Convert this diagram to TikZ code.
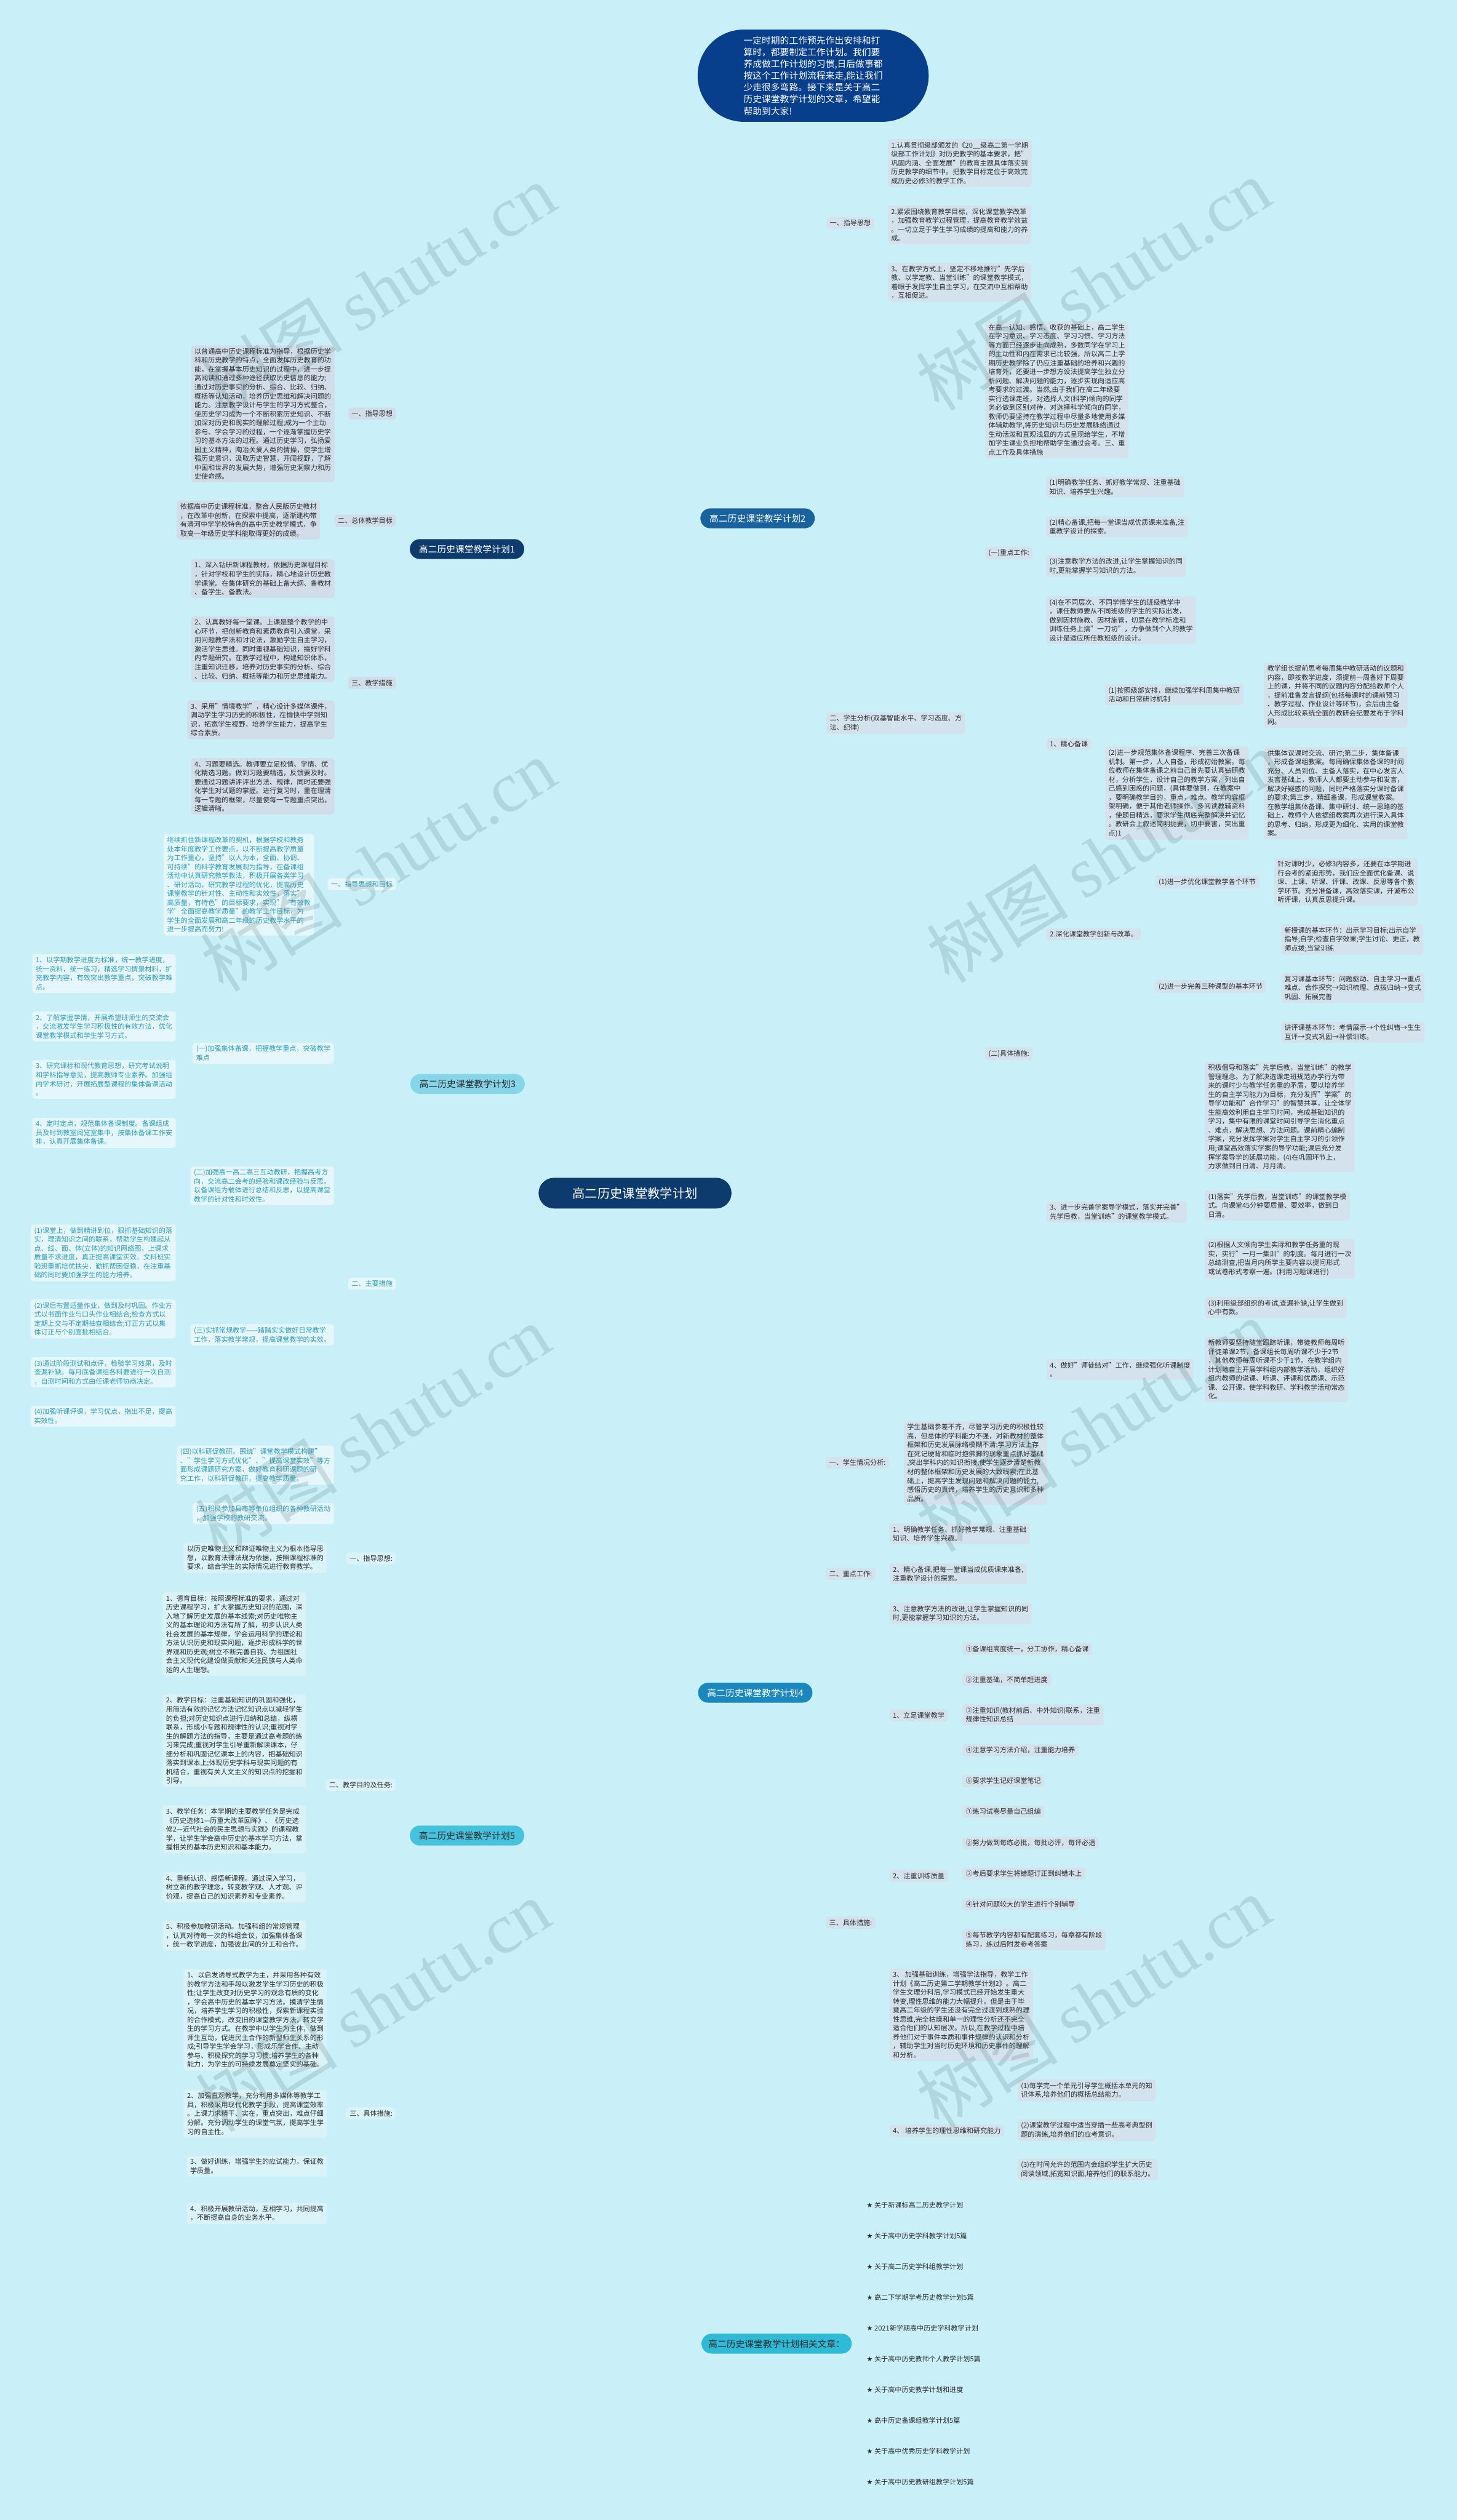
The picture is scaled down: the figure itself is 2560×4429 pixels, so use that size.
\documentclass[tikz,border=0pt]{standalone}
\usepackage{fontspec}
\setmainfont{Noto Sans CJK SC}
\newfontfamily\wmfont{Liberation Serif}
\newfontfamily\symf{DejaVu Sans}
\usetikzlibrary{calc}
\pgfdeclarelayer{bgl}
\pgfdeclarelayer{wml}
\pgfsetlayers{bgl,main,wml}
\definecolor{bgc}{HTML}{C9F0F8}
\definecolor{navy}{HTML}{0E3B6E}
\definecolor{bubc}{HTML}{083F8C}
\definecolor{p2c}{HTML}{1862A0}
\definecolor{p4c}{HTML}{1A88BE}
\definecolor{rcc}{HTML}{2FBAD8}
\definecolor{p3c}{HTML}{86D5E8}
\definecolor{p5c}{HTML}{45C3DE}
\definecolor{boxA}{HTML}{D3E2EC}
\definecolor{boxP}{HTML}{D2DDEA}
\definecolor{boxC}{HTML}{E6F7FB}
\definecolor{boxE}{HTML}{DAF3F8}
\definecolor{txtC}{HTML}{2A9BB8}
\definecolor{txtD}{HTML}{2B2B2B}
\definecolor{lone}{HTML}{173F6F}
\definecolor{ltwo}{HTML}{1A5F92}
\definecolor{lfour}{HTML}{1A80B3}
\definecolor{lthree}{HTML}{8AD3E4}
\definecolor{lfive}{HTML}{3FBDD8}
\definecolor{lrel}{HTML}{2AAECF}
\definecolor{wmc}{HTML}{4A7378}
\newcommand\rlink[4][]{\draw[#1] let \p1=(#2.east), \p2=(#3.west) in (\p1) -- (#4pt,\y1) -- (#4pt,\y2) -- (\p2);}
\newcommand\llink[4][]{\draw[#1] let \p1=(#2.west), \p2=(#3.east) in (\p1) -- (#4pt,\y1) -- (#4pt,\y2) -- (\p2);}
\begin{document}
\begin{tikzpicture}[x=1pt,y=-1pt,
 tx/.style={font=\fontsize{12pt}{15.7pt}\selectfont, align=left, inner xsep=6pt, inner ysep=5pt, rounded corners=5pt, text=txtD},
 bA/.style={tx, fill=boxA},
 bP/.style={tx, fill=boxP},
 bC/.style={tx, fill=boxC, text=txtC},
 bE/.style={tx, fill=boxE},
 pn/.style={font=\fontsize{16pt}{20pt}\selectfont, minimum width=201pt, minimum height=35pt, rounded corners=17.5pt, inner xsep=12pt},
 cn/.style={line width=2.2pt, rounded corners=8pt},
 cnA/.style={cn, draw=ltwo},
 cnB/.style={cn, draw=lfour},
 cnP/.style={cn, draw=lone},
 cnC/.style={cn, draw=lthree},
 cnE/.style={cn, draw=lfive},
 cnR/.style={cn, draw=lrel, rounded corners=12pt},
 mainln/.style={line width=3pt},
 rel/.style={font=\fontsize{12pt}{14pt}\selectfont, anchor=west, inner sep=3pt, text=txtD}
]
\useasboundingbox (0,0) rectangle (2560,4429);
\fill[bgc] (0,0) rectangle (2560,4429);

% root and bubble
\node[font=\fontsize{22pt}{26pt}\selectfont, fill=navy, text=white, minimum width=339pt, minimum height=54pt, rounded corners=27pt] (root) at (1116,2097) {高二历史课堂教学计划};
\node[fill=bubc, text=white, font=\fontsize{16pt}{20.7pt}\selectfont, align=left, minimum width=406pt, minimum height=162pt, rounded corners=81pt, inner sep=0pt] (bub) at (1429,133) {一定时期的工作预先作出安排和打\\算时，都要制定工作计划。我们要\\养成做工作计划的习惯,日后做事都\\按这个工作计划流程来走,能让我们\\少走很多弯路。接下来是关于高二\\历史课堂教学计划的文章，希望能\\帮助到大家!};

% ===== Plan 2 =====
\node[pn, fill=p2c, text=white, anchor=east] (P2) at (1432,911) {高二历史课堂教学计划2};
\node[bA, anchor=west] (p2a) at (1452,392) {一、指导思想};
\node[bA, anchor=west] (p2a1) at (1560,286.5) {1.认真贯彻级部颁发的《20\_\_级高二第一学期\\级部工作计划》对历史教学的基本要求，把"\\巩固内涵、全面发展"的教育主题具体落实到\\历史教学的细节中。把教学目标定位于高效完\\成历史必修3的教学工作。};
\node[bA, anchor=west] (p2a2) at (1560,395.5) {2.紧紧围绕教育教学目标，深化课堂教学改革\\，加强教育教学过程管理，提高教育教学效益\\。一切立足于学生学习成绩的提高和能力的养\\成。};
\node[bA, anchor=west] (p2a3) at (1560,496) {3、在教学方式上，坚定不移地推行"先学后\\教、以学定教、当堂训练"的课堂教学模式，\\着眼于发挥学生自主学习，在交流中互相帮助\\，互相促进。};
\node[bA, anchor=west] (p2b) at (1452,1271) {二、学生分析(双基智能水平、学习态度、方\\法、纪律)};
\node[bA, anchor=west] (p2b1) at (1731,685) {在高一认知、感悟、收获的基础上，高二学生\\在学习意识、学习态度、学习习惯、学习方法\\等方面已经逐步走向成熟，多数同学在学习上\\的主动性和内在需求已比较强，所以高二上学\\期历史教学除了仍应注重基础的培养和兴趣的\\培育外，还要进一步想方设法提高学生独立分\\析问题、解决问题的能力，逐步实现向适应高\\考要求的过渡。当然,由于我们在高二年级要\\实行选课走班，对选择人文(科学)倾向的同学\\务必做到区别对待，对选择科学倾向的同学，\\教师仍要坚持在教学过程中尽量多地使用多媒\\体辅助教学,将历史知识与历史发展脉络通过\\生动活泼和直观浅显的方式呈现给学生，不增\\加学生课业负担地帮助学生通过会考。三、重\\点工作及具体措施};
\node[bA, anchor=west] (p2b2) at (1731,972) {(一)重点工作:};
\node[bA, anchor=west] (k1) at (1838,856) {(1)明确教学任务、抓好教学常规、注重基础\\知识、培养学生兴趣。};
\node[bA, anchor=west] (k2) at (1838,926) {(2)精心备课,把每一堂课当成优质课来准备,注\\重教学设计的探索。};
\node[bA, anchor=west] (k3) at (1838,995) {(3)注意教学方法的改进,让学生掌握知识的同\\时,更能掌握学习知识的方法。};
\node[bA, anchor=west] (k4) at (1838,1090) {(4)在不同层次、不同学情学生的班级教学中\\，课任教师要从不同班级的学生的实际出发，\\做到因材施教、因材施管，切忌在教学标准和\\训练任务上搞"一刀切"，力争做到个人的教学\\设计是适应所任教班级的设计。};
\node[bA, anchor=west] (p2b3) at (1731,1852) {(二)具体措施:};
\node[bA, anchor=west] (c1) at (1839,1308) {1、精心备课};
\node[bA, anchor=west] (c11) at (1942,1221) {(1)按照级部安排，继续加强学科周集中教研\\活动和日常研讨机制};
\node[bA, anchor=west] (c11x) at (2221,1222) {教学组长提前思考每周集中教研活动的议题和\\内容，即按教学进度，须提前一周备好下周要\\上的课，并将不同的议题内容分配给教师个人\\，提前准备发言提纲(包括每课时的课前预习\\、教学过程、作业设计等环节)，会后由主备\\人形成比较系统全面的教研会纪要发布于学科\\网。};
\node[bA, anchor=west] (c12) at (1942,1394) {(2)进一步规范集体备课程序、完善三次备课\\机制。第一步，人人自备，形成初始教案。每\\位教师在集体备课之前自己首先要认真钻研教\\材，分析学生，设计自己的教学方案，列出自\\己感到困惑的问题，(具体要做到，在教案中\\，要明确教学目的，重点，难点。教学内容框\\架明确，便于其他老师操作。多阅读教辅资料\\，使题目精选，要求学生彻底完整解决并记忆\\。教研会上叙述简明扼要，切中要害，突出重\\点)1};
\node[bA, anchor=west] (c12x) at (2221,1394) {供集体议课时交流、研讨;第二步，集体备课\\，形成备课组教案。每周确保集体备课的时间\\充分、人员到位、主备人落实，在中心发言人\\发言基础上，教师人人都要主动参与和发言，\\解决好疑惑的问题，同时严格落实分课时备课\\的要求;第三步，精细备课，形成课堂教案。\\在教学组集体备课、集中研讨、统一思路的基\\础上，教师个人依据组教案再次进行深入具体\\的思考、归纳，形成更为细化、实用的课堂教\\案。};
\node[bA, anchor=west] (c2) at (1839,1642) {2.深化课堂教学创新与改革。};
\node[bA, anchor=west] (c21) at (2030,1550) {(1)进一步优化课堂教学各个环节};
\node[bA, anchor=west] (c21x) at (2239,1550) {针对课时少，必修3内容多，还要在本学期进\\行会考的紧迫形势，我们应全面优化备课、说\\课、上课、听课、评课、改课、反思等各个教\\学环节。充分准备课，高效落实课，开诚布公\\听评课，认真反思提升课。};
\node[bA, anchor=west] (c22) at (2030,1734) {(2)进一步完善三种课型的基本环节};
\node[bA, anchor=west] (c22a) at (2251,1651) {新授课的基本环节：出示学习目标;出示自学\\指导;自学;检查自学效果;学生讨论、更正，教\\师点拨;当堂训练};
\node[bA, anchor=west] (c22b) at (2251,1736) {复习课基本环节：问题驱动、自主学习→重点\\难点、合作探究→知识梳理、点拨归纳→变式\\巩固、拓展完善};
\node[bA, anchor=west] (c22c) at (2251,1814) {讲评课基本环节：考情展示→个性纠错→生生\\互评→变式巩固→补偿训练。};
\node[bA, anchor=west] (c3) at (1839,2130) {3、进一步完善学案导学模式，落实并完善"\\先学后教，当堂训练"的课堂教学模式。};
\node[bA, anchor=west] (c3a) at (2117,1963) {积极倡导和落实"先学后教，当堂训练"的教学\\管理理念。为了解决选课走班规范办学行为带\\来的课时少与教学任务重的矛盾，要以培养学\\生的自主学习能力为目标，充分发挥"学案"的\\导学功能和"合作学习"的智慧共享，让全体学\\生能高效利用自主学习时间，完成基础知识的\\学习，集中有限的课堂时间引导学生消化重点\\、难点，解决思想、方法问题。课前精心编制\\学案，充分发挥学案对学生自主学习的引领作\\用;课堂高效落实学案的导学功能;课后充分发\\挥学案导学的延展功能。(4)在巩固环节上，\\力求做到日日清、月月清。};
\node[bA, anchor=west] (c3b) at (2117,2119) {(1)落实"先学后教，当堂训练"的课堂教学模\\式。向课堂45分钟要质量、要效率，做到日\\日清。};
\node[bA, anchor=west] (c3c) at (2117,2212) {(2)根据人文倾向学生实际和教学任务重的现\\实，实行"一月一集训"的制度。每月进行一次\\总结测查,把当月内所学主要内容以提问形式\\或试卷形式考察一遍。(利用习题课进行)};
\node[bA, anchor=west] (c3d) at (2117,2298) {(3)利用级部组织的考试,查漏补缺,让学生做到\\心中有数。};
\node[bA, anchor=west] (c4) at (1839,2407) {4、做好"师徒结对"工作，继续强化听课制度\\。};
\node[bA, anchor=west] (c4x) at (2117,2407) {新教师要坚持随堂跟踪听课，带徒教师每周听\\评徒弟课2节，备课组长每周听课不少于2节\\，其他教师每周听课不少于1节。在教学组内\\计划地自主开展学科组内部教学活动，组织好\\组内教师的说课、听课、评课和优质课、示范\\课、公开课，使学科教研、学科教学活动常态\\化。};

% ===== Plan 4 =====
\node[pn, fill=p4c, text=white, anchor=east] (P4) at (1428,2975) {高二历史课堂教学计划4};
\node[bA, anchor=west] (q1) at (1451,2571) {一、学生情况分析:};
\node[bA, anchor=west] (q1x) at (1588,2571) {学生基础参差不齐，尽管学习历史的积极性较\\高，但总体的学科能力不强，对新教材的整体\\框架和历史发展脉络模糊不清;学习方法上存\\在死记硬背和临时抱佛脚的现象重点抓好基础\\,突出学科内的知识衔接,使学生逐步清楚新教\\材的整体框架和历史发展的大致线索;在此基\\础上，提高学生发现问题和解决问题的能力,\\感悟历史的真谛，培养学生的历史意识和多种\\品质。};
\node[bA, anchor=west] (q2) at (1451,2766) {二、重点工作:};
\node[bA, anchor=west] (q2a) at (1563,2696) {1、明确教学任务、抓好教学常规、注重基础\\知识、培养学生兴趣。};
\node[bA, anchor=west] (q2b) at (1563,2766) {2、精心备课,把每一堂课当成优质课来准备,\\注重教学设计的探索。};
\node[bA, anchor=west] (q2c) at (1563,2836) {3、注意教学方法的改进,让学生掌握知识的同\\时,更能掌握学习知识的方法。};
\node[bA, anchor=west] (q3) at (1451,3379) {三、具体措施:};
\node[bA, anchor=west] (q31) at (1563,3015) {1、立足课堂教学};
\node[bA, anchor=west] (q31a) at (1691,2898) {①备课组高度统一，分工协作，精心备课};
\node[bA, anchor=west] (q31b) at (1691,2952) {②注重基础，不简单赶进度};
\node[bA, anchor=west] (q31c) at (1691,3014) {③注重知识(教材前后、中外知识)联系，注重\\规律性知识总结};
\node[bA, anchor=west] (q31d) at (1691,3076) {④注意学习方法介绍，注重能力培养};
\node[bA, anchor=west] (q31e) at (1691,3130) {⑤要求学生记好课堂笔记};
\node[bA, anchor=west] (q32) at (1563,3297) {2、注重训练质量};
\node[bA, anchor=west] (q32a) at (1691,3184) {①练习试卷尽量自己组编};
\node[bA, anchor=west] (q32b) at (1691,3239) {②努力做到每练必批，每批必评，每评必透};
\node[bA, anchor=west] (q32c) at (1691,3293) {③考后要求学生将错题订正到纠错本上};
\node[bA, anchor=west] (q32d) at (1691,3347) {④针对问题较大的学生进行个别辅导};
\node[bA, anchor=west] (q32e) at (1691,3409) {⑤每节教学内容都有配套练习，每章都有阶段\\练习，练过后附发参考答案};
\node[bA, anchor=west] (q33) at (1563,3541) {3、 加强基础训练，增强学法指导，教学工作\\计划《高二历史第二学期教学计划2》。高二\\学生文理分科后,学习模式已经开始发生重大\\转变,理性思维的能力大幅提升。但是由于毕\\竟高二年级的学生还没有完全过渡到成熟的理\\性思维,完全枯燥和单一的理性分析还不完全\\适合他们的认知层次。所以,在教学过程中培\\养他们对于事件本质和事件规律的认识和分析\\，辅助学生对当时历史环境和历史事件的理解\\和分析。};
\node[bA, anchor=west] (q34) at (1563,3745) {4、 培养学生的理性思维和研究能力};
\node[bA, anchor=west] (q34a) at (1788,3674) {(1)每学完一个单元引导学生概括本单元的知\\识体系,培养他们的概括总结能力。};
\node[bA, anchor=west] (q34b) at (1788,3744) {(2)课堂教学过程中适当穿插一些高考典型例\\题的演练,培养他们的应考意识。};
\node[bA, anchor=west] (q34c) at (1788,3813) {(3)在时间允许的范围内会组织学生扩大历史\\阅读领域,拓宽知识面,培养他们的联系能力。};

% ===== Related =====
\node[pn, fill=rcc, text=txtD, anchor=east] (R) at (1497,4119) {高二历史课堂教学计划相关文章：};
\node[rel] (r1) at (1520,3876) {{\symf ★} 关于新课标高二历史教学计划};
\node[rel] (r2) at (1520,3930) {{\symf ★} 关于高中历史学科教学计划5篇};
\node[rel] (r3) at (1520,3984) {{\symf ★} 关于高二历史学科组教学计划};
\node[rel] (r4) at (1520,4038) {{\symf ★} 高二下学期学考历史教学计划5篇};
\node[rel] (r5) at (1520,4092) {{\symf ★} 2021新学期高中历史学科教学计划};
\node[rel] (r6) at (1520,4146) {{\symf ★} 关于高中历史教师个人教学计划5篇};
\node[rel] (r7) at (1520,4200) {{\symf ★} 关于高中历史教学计划和进度};
\node[rel] (r8) at (1520,4254) {{\symf ★} 高中历史备课组教学计划5篇};
\node[rel] (r9) at (1520,4308) {{\symf ★} 关于高中优秀历史学科教学计划};
\node[rel] (r10) at (1520,4362) {{\symf ★} 关于高中历史教研组教学计划5篇};

% ===== Plan 1 =====
\node[pn, fill=navy, text=white, anchor=west] (P1) at (720,965) {高二历史课堂教学计划1};
\node[bP, anchor=east] (a1) at (696,727) {一、指导思想};
\node[bP, anchor=east] (a1x) at (588,727.5) {以普通高中历史课程标准为指导，根据历史学\\科和历史教学的特点，全面发挥历史教育的功\\能，在掌握基本历史知识的过程中，进一步提\\高阅读和通过多种途径获取历史信息的能力;\\通过对历史事实的分析、综合、比较、归纳、\\概括等认知活动，培养历史思维和解决问题的\\能力。注意教学设计与学生的学习方式整合，\\使历史学习成为一个不断积累历史知识、不断\\加深对历史和现实的理解过程;成为一个主动\\参与、学会学习的过程，一个逐渐掌握历史学\\习的基本方法的过程。通过历史学习，弘扬爱\\国主义精神，陶冶关爱人类的情操，使学生增\\强历史意识，汲取历史智慧，开阔视野，了解\\中国和世界的发展大势，增强历史洞察力和历\\史使命感。};
\node[bP, anchor=east] (a2) at (696,915) {二、总体教学目标};
\node[bP, anchor=east] (a2x) at (563,914) {依据高中历史课程标准，整合人民版历史教材\\，在改革中创新，在探索中提高，逐渐建构带\\有清河中学学校特色的高中历史教学模式，争\\取高一年级历史学科能取得更好的成绩。};
\node[bP, anchor=east] (a3) at (696,1200) {三、教学措施};
\node[bP, anchor=east] (a3a) at (588,1017) {1、深入钻研新课程教材，依据历史课程目标\\，针对学校和学生的实际，精心地设计历史教\\学课堂。在集体研究的基础上备大纲、备教材\\、备学生、备教法。};
\node[bP, anchor=east] (a3b) at (588,1141) {2、认真教好每一堂课。上课是整个教学的中\\心环节，把创新教育和素质教育引入课堂，采\\用问题教学法和讨论法，激励学生自主学习，\\激活学生思维。同时重视基础知识，搞好学科\\内专题研究。在教学过程中，构建知识体系，\\注重知识迁移，培养对历史事实的分析、综合\\、比较、归纳、概括等能力和历史思维能力。};
\node[bP, anchor=east] (a3c) at (588,1265) {3、采用"情境教学"，精心设计多媒体课件，\\调动学生学习历史的积极性，在愉快中学到知\\识，拓宽学生视野，培养学生能力，提高学生\\综合素质。};
\node[bP, anchor=east] (a3d) at (588,1382) {4、习题要精选。教师要立足校情、学情、优\\化精选习题。做到习题要精选，反馈要及时。\\要通过习题讲评评出方法、规律，同时还要强\\化学生对试题的掌握。进行复习时，重在理清\\每一专题的框架，尽量使每一专题重点突出，\\逻辑清晰。};

% ===== Plan 3 =====
\node[pn, fill=p3c, text=txtD, anchor=west] (P3) at (721,1905) {高二历史课堂教学计划3};
\node[bC, anchor=east] (b1) at (696,1554) {一、指导思想和目标};
\node[bC, anchor=east] (b1x) at (552,1555) {继续抓住新课程改革的契机，根据学校和教务\\处本年度教学工作要点，以不断提高教学质量\\为工作重心，坚持"以人为本，全面、协调、\\可持续"的科学教育发展观为指导，在备课组\\活动中认真研究教学教法，积极开展各类学习\\、研讨活动，研究教学过程的优化，提高历史\\课堂教学的针对性、主动性和实效性，落实"\\高质量，有特色"的目标要求，实现"‘有效教\\学’全面提高教学质量"的教学工作目标，为\\学生的全面发展和高二年级的历史教学水平的\\进一步提高而努力!};
\node[bC, anchor=east] (b2) at (696,2256) {二、主要措施};
\node[bC, anchor=east] (b21) at (587,1851) {(一)加强集体备课，把握教学重点，突破教学\\难点};
\node[bC, anchor=east] (b21a) at (309,1711) {1、以学期教学进度为标准，统一教学进度，\\统一资料，统一练习，精选学习情景材料，扩\\充教学内容，有效突出教学重点，突破教学难\\点。};
\node[bC, anchor=east] (b21b) at (309,1804) {2、了解掌握学情，开展希望班师生的交流会\\，交流激发学生学习积极性的有效方法，优化\\课堂教学模式和学生学习方式。};
\node[bC, anchor=east] (b21c) at (309,1897) {3、研究课标和现代教育思想，研究考试说明\\和学科指导意见，提高教师专业素养。加强组\\内学术研讨，开展拓展型课程的集体备课活动\\。};
\node[bC, anchor=east] (b21d) at (309,1991) {4、定时定点，规范集体备课制度。备课组成\\员及时到教室阅览室集中，按集体备课工作安\\排，认真开展集体备课。};
\node[bC, anchor=east] (b22) at (587,2084) {(二)加强高一高二高三互动教研，把握高考方\\向，交流高二会考的经验和课改经验与反思。\\以备课组为载体进行总结和反思，以提高课堂\\教学的针对性和时效性。};
\node[bC, anchor=east] (b23) at (587,2346) {(三)实抓常规教学——踏踏实实做好日常教学\\工作，落实教学常规，提高课堂教学的实效。};
\node[bC, anchor=east] (b23a) at (309,2202) {(1)课堂上，做到精讲到位，狠抓基础知识的落\\实，理清知识之间的联系，帮助学生构建起从\\点、线、面、体(立体)的知识网络图，上课求\\质量不求进度，真正提高课堂实效。文科班实\\验班重抓培优扶尖，勤抓帮困促稳，在注重基\\础的同时要加强学生的能力培养。};
\node[bC, anchor=east] (b23b) at (309,2318) {(2)课后布置适量作业，做到及时巩固。作业方\\式以书面作业与口头作业相结合;检查方式以\\定期上交与不定期抽查相结合;订正方式以集\\体订正与个别面批相结合。};
\node[bC, anchor=east] (b23c) at (309,2412) {(3)通过阶段测试和点评，检验学习效果，及时\\查漏补缺。每月底备课组各科要进行一次自测\\，自测时间和方式由任课老师协商决定。};
\node[bC, anchor=east] (b23d) at (309,2489) {(4)加强听课评课，学习优点，指出不足，提高\\实效性。};
\node[bC, anchor=east] (b24) at (587,2575) {(四)以科研促教研。围绕"课堂教学模式构建"\\、"学生学习方式优化"、"提高课堂实效"等方\\面形成课题研究方案，做好教育科研课题的研\\究工作，以科研促教研，提高教学质量。};
\node[bC, anchor=east] (b25) at (587,2660) {(五)积极参加县市等单位组织的各种教研活动\\，加强学校的教研交流。};

% ===== Plan 5 =====
\node[pn, fill=p5c, text=txtD, anchor=west] (P5) at (720,3226) {高二历史课堂教学计划5};
\node[bE, anchor=east] (d1) at (696,2739) {一、指导思想:};
\node[bE, anchor=east] (d1x) at (575,2738) {以历史唯物主义和辩证唯物主义为根本指导思\\想，以教育法律法规为依据，按照课程标准的\\要求，结合学生的实际情况进行教育教学。};
\node[bE, anchor=east] (d2) at (696,3137) {二、教学目的及任务:};
\node[bE, anchor=east] (d2a) at (538,2872) {1、德育目标：按照课程标准的要求，通过对\\历史课程学习，扩大掌握历史知识的范围，深\\入地了解历史发展的基本线索;对历史唯物主\\义的基本理论和方法有所了解，初步认识人类\\社会发展的基本规律，学会运用科学的理论和\\方法认识历史和现实问题，逐步形成科学的世\\界观和历史观;树立不断完善自我、为祖国社\\会主义现代化建设做贡献和关注民族与人类命\\运的人生理想。};
\node[bE, anchor=east] (d2b) at (538,3059) {2、教学目标：注重基础知识的巩固和强化，\\用简洁有效的记忆方法记忆知识点以减轻学生\\的负担;对历史知识点进行归纳和总结，纵横\\联系，形成小专题和规律性的认识;重视对学\\生的解题方法的指导，主要是通过高考题的练\\习来完成;重视对学生引导重新解读课本，仔\\细分析和巩固记忆课本上的内容，把基础知识\\落实到课本上;体现历史学科与现实问题的有\\机结合，重视有关人文主义的知识点的挖掘和\\引导。};
\node[bE, anchor=east] (d2c) at (538,3215) {3、教学任务：本学期的主要教学任务是完成\\《历史选修1—历重大改革回眸》、《历史选\\修2—近代社会的民主思想与实践》的课程教\\学，让学生学会高中历史的基本学习方法，掌\\握相关的基本历史知识和基本能力。};
\node[bE, anchor=east] (d2d) at (538,3317) {4、重新认识、感悟新课程。通过深入学习，\\树立新的教学理念，转变教学观、人才观、评\\价观，提高自己的知识素养和专业素养。};
\node[bE, anchor=east] (d2e) at (538,3402) {5、积极参加教研活动。加强科组的常规管理\\，认真对待每一次的科组会议，加强集体备课\\，统一教学进度，加强彼此间的分工和合作。};
\node[bE, anchor=east] (d3) at (696,3714) {三、具体措施:};
\node[bE, anchor=east] (d3a) at (575,3550) {1、以启发诱导式教学为主，并采用各种有效\\的教学方法和手段以激发学生学习历史的积极\\性;让学生改变对历史学习的观念有质的变化\\，学会高中历史的基本学习方法。摸清学生情\\况，培养学生学习的积极性，探索新课程实验\\的合作模式，改变旧的课堂教学方法，转变学\\生的学习方式。在教学中以学生为主体，做到\\师生互动，促进民主合作的新型师生关系的形\\成;引导学生学会学习，形成乐学合作、主动\\参与、积极探究的学习习惯;培养学生的各种\\能力，为学生的可持续发展奠定坚实的基础。};
\node[bE, anchor=east] (d3b) at (575,3715) {2、加强直观教学，充分利用多媒体等教学工\\具，积极采用现代化教学手段，提高课堂效率\\。上课力求精干、实在，重点突出，难点仔细\\分解。充分调动学生的课堂气氛，提高学生学\\习的自主性。};
\node[bE, anchor=east] (d3c) at (575,3807) {3、做好训练，增强学生的应试能力，保证教\\学质量。};
\node[bE, anchor=east] (d3d) at (575,3890) {4、积极开展教研活动，互相学习，共同提高\\，不断提高自身的业务水平。};

% ===== connectors =====
\begin{pgfonlayer}{bgl}
\draw[mainln, navy] (bub.west) .. controls (1180,133) and (1160,160) .. (1160,240) -- (1160,2097);
\draw[mainln, p2c] (P2.west) .. controls (1205,911) and (1188,930) .. (1188,1000) -- (1188,2097);
\draw[mainln, p4c] (P4.west) .. controls (1205,2975) and (1188,2955) .. (1188,2880) -- (1188,2097);
\draw[mainln, rcc] (R.west) .. controls (1205,4119) and (1188,4100) .. (1188,4020) -- (1188,2097);
\draw[mainln, navy] (P1.east) .. controls (985,965) and (1005,1000) .. (1005,1080) -- (1005,2097);
\draw[mainln, p3c] (P3.east) .. controls (985,1905) and (1005,1925) .. (1005,1990) -- (1005,2097);
\draw[mainln, p5c] (P5.east) .. controls (985,3226) and (1005,3205) .. (1005,3140) -- (1005,2097);
% plan 2
\rlink[cnA, rounded corners=18pt]{P2}{p2a}{1443}
\rlink[cnA, rounded corners=18pt]{P2}{p2b}{1443}
\foreach \c in {p2a1,p2a2,p2a3} {\rlink[cnA]{p2a}{\c}{1548}}
\foreach \c in {p2b1,p2b2,p2b3} {\rlink[cnA]{p2b}{\c}{1720}}
\foreach \c in {k1,k2,k3,k4} {\rlink[cnA]{p2b2}{\c}{1826}}
\foreach \c in {c1,c2,c3,c4} {\rlink[cnA]{p2b3}{\c}{1827}}
\foreach \c in {c11,c12} {\rlink[cnA]{c1}{\c}{1930}}
\rlink[cnA]{c11}{c11x}{2209}
\rlink[cnA]{c12}{c12x}{2209}
\foreach \c in {c21,c22} {\rlink[cnA]{c2}{\c}{2018}}
\rlink[cnA]{c21}{c21x}{2228}
\foreach \c in {c22a,c22b,c22c} {\rlink[cnA]{c22}{\c}{2241}}
\foreach \c in {c3a,c3b,c3c,c3d} {\rlink[cnA]{c3}{\c}{2106}}
\rlink[cnA]{c4}{c4x}{2106}
% plan 4
\foreach \c in {q1,q2,q3} {\rlink[cnB, rounded corners=18pt]{P4}{\c}{1441}}
\rlink[cnB]{q1}{q1x}{1575}
\foreach \c in {q2a,q2b,q2c} {\rlink[cnB]{q2}{\c}{1550}}
\foreach \c in {q31,q32,q33,q34} {\rlink[cnB]{q3}{\c}{1550}}
\foreach \c in {q31a,q31b,q31c,q31d,q31e} {\rlink[cnB]{q31}{\c}{1678}}
\foreach \c in {q32a,q32b,q32c,q32d,q32e} {\rlink[cnB]{q32}{\c}{1678}}
\foreach \c in {q34a,q34b,q34c} {\rlink[cnB]{q34}{\c}{1777}}
% related
\foreach \c in {r1,r2,r3,r4,r5,r6,r7,r8,r9,r10} {\rlink[cnR]{R}{\c}{1510}}
% plan 1
\foreach \c in {a1,a2,a3} {\llink[cnP, rounded corners=18pt]{P1}{\c}{707}}
\llink[cnP]{a1}{a1x}{600}
\llink[cnP]{a2}{a2x}{575}
\foreach \c in {a3a,a3b,a3c,a3d} {\llink[cnP]{a3}{\c}{599}}
% plan 3
\foreach \c in {b1,b2} {\llink[cnC, rounded corners=18pt]{P3}{\c}{703}}
\llink[cnC]{b1}{b1x}{564}
\foreach \c in {b21,b22,b23,b24,b25} {\llink[cnC]{b2}{\c}{599}}
\foreach \c in {b21a,b21b,b21c,b21d} {\llink[cnC]{b21}{\c}{319}}
\foreach \c in {b23a,b23b,b23c,b23d} {\llink[cnC]{b23}{\c}{319}}
% plan 5
\foreach \c in {d1,d2,d3} {\llink[cnE, rounded corners=18pt]{P5}{\c}{707}}
\llink[cnE]{d1}{d1x}{587}
\foreach \c in {d2a,d2b,d2c,d2d,d2e} {\llink[cnE]{d2}{\c}{550}}
\foreach \c in {d3a,d3b,d3c,d3d} {\llink[cnE]{d3}{\c}{587}}
\end{pgfonlayer}

% ===== watermarks =====
\begin{pgfonlayer}{wml}
\foreach \wx/\wy in {664/509, 1921/500, 664/1520, 1940/1505, 655/2515, 1921/2505, 655/3525, 1921/3518}
  \node[rotate=32, opacity=0.2, text=wmc, font=\fontsize{125pt}{130pt}\selectfont] at (\wx,\wy) {树图 {\wmfont shutu.cn}};
\end{pgfonlayer}
\end{tikzpicture}
\end{document}
